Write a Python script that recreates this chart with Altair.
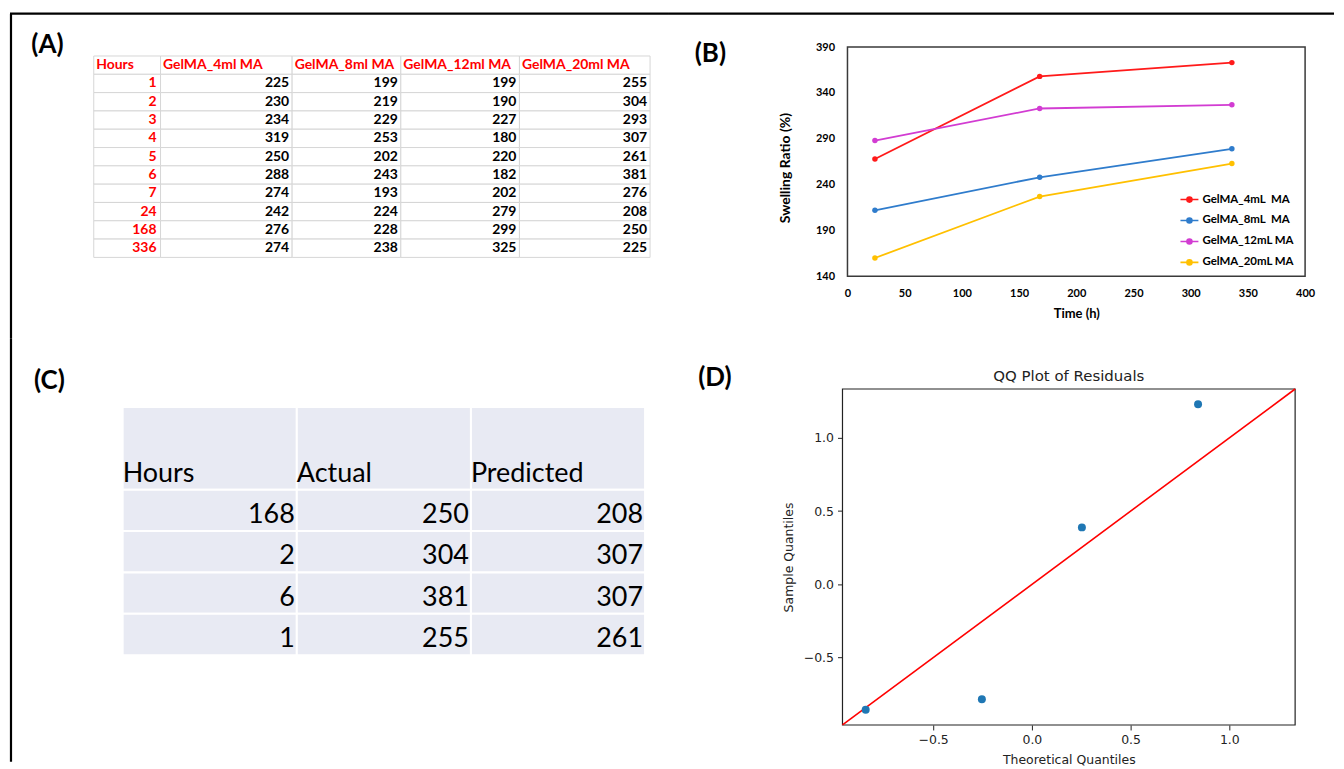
import altair as alt
import pandas as pd

# ---------------- data ----------------
# (A) swelling table
HEADERS_A = ["Hours", "GelMA_4ml MA", "GelMA_8ml MA", "GelMA_12ml MA", "GelMA_20ml MA"]
HOURS_A = [1, 2, 3, 4, 5, 6, 7, 24, 168, 336]
GEL_4ML = [225, 230, 234, 319, 250, 288, 274, 242, 276, 274]
GEL_8ML = [199, 219, 229, 253, 202, 243, 193, 224, 228, 238]
GEL_12ML = [199, 190, 227, 180, 220, 182, 202, 279, 299, 325]
GEL_20ML = [255, 304, 293, 307, 261, 381, 276, 208, 250, 225]

# (B) swelling ratio vs time
TIME_H = [24, 168, 336]
SERIES_B = ["GelMA_4mL \u00a0MA", "GelMA_8mL \u00a0MA", "GelMA_12mL MA", "GelMA_20mL MA"]
SW_4 = [268, 358, 373]
SW_8 = [212, 248, 279]
SW_12 = [288, 323, 327]
SW_20 = [160, 227, 263]
B_X_TICKS = [0, 50, 100, 150, 200, 250, 300, 350, 400]
B_Y_TICKS = [140, 190, 240, 290, 340, 390]

# (C) actual vs predicted table
HEADERS_C = ["Hours", "Actual", "Predicted"]
HOURS_C = [168, 2, 6, 1]
ACTUAL_C = [250, 304, 381, 255]
PRED_C = [208, 307, 307, 261]

# (D) QQ plot of residuals
THEO_Q = [-0.8416, -0.2533, 0.2533, 0.8416]
SAMPLE_Q = [-0.855, -0.783, 0.389, 1.229]
D_TICKS = [-0.5, 0.0, 0.5, 1.0]

# ---------------- layout / style ----------------
W_L, W_R = 660, 668
H_T, H_B = 330, 425
CAL = "Lato"
MPL = "DejaVu Sans"
COLORS_B = ["#ff1a1a", "#2f7ccc", "#d23cd2", "#ffc000"]
COL_W_A = [67, 132, 109, 119, 131]          # relative column widths of table A
FRAME_W = 2.2


def one(**kw):
    return pd.DataFrame({k: [v] for k, v in kw.items()})


def panel_label(text, x, y):
    return alt.Chart(one(t=text)).mark_text(
        font=CAL, fontSize=26, fontWeight="bold", align="center",
        baseline="middle", color="black"
    ).encode(x=alt.value(x), y=alt.value(y), text="t:N")


def hrule(y, x1, x2):
    return alt.Chart(one(k=0)).mark_rule(color="black", strokeWidth=FRAME_W).encode(
        x=alt.value(x1), x2=alt.value(x2), y=alt.value(y))


def vrule(x, y1, y2):
    return alt.Chart(one(k=0)).mark_rule(color="black", strokeWidth=FRAME_W).encode(
        x=alt.value(x), y=alt.value(y1), y2=alt.value(y2))


# ---------------- panel A ----------------
edges = [0]
for w in COL_W_A:
    edges.append(edges[-1] + w)
cols_a = [HOURS_A, GEL_4ML, GEL_8ML, GEL_12ML, GEL_20ML]
recs = []
for r in range(11):
    for c in range(5):
        if r == 0:
            kind, txt = "header", HEADERS_A[c]
        elif c == 0:
            kind, txt = "hours", str(HOURS_A[r - 1])
        else:
            kind, txt = "value", str(cols_a[c][r - 1])
        recs.append(dict(x0=edges[c], x1=edges[c + 1], y0=r, y1=r + 1, yc=r + 0.5,
                         kind=kind, txt=txt))
df_a = pd.DataFrame(recs)
xs_a = alt.Scale(domain=[0, edges[-1]], range=[84, 642], nice=False, zero=False)
ys_a = alt.Scale(domain=[0, 11], range=[47, 249], nice=False, zero=False)
FS_A = 14

cells_a = alt.Chart(df_a).mark_rect(fill="white", stroke="#d6d6d6", strokeWidth=1).encode(
    x=alt.X("x0:Q", scale=xs_a, axis=None), x2="x1:Q",
    y=alt.Y("y0:Q", scale=ys_a, axis=None), y2="y1:Q")
head_a = alt.Chart(df_a[df_a.kind == "header"]).mark_text(
    font=CAL, fontSize=FS_A, fontWeight="bold", color="#ff0000", align="left",
    baseline="middle", dx=2.5).encode(
    x=alt.X("x0:Q", scale=xs_a, axis=None), y=alt.Y("yc:Q", scale=ys_a, axis=None), text="txt:N")
hours_a = alt.Chart(df_a[df_a.kind == "hours"]).mark_text(
    font=CAL, fontSize=FS_A, fontWeight="bold", color="#ff0000", align="right",
    baseline="middle", dx=-4).encode(
    x=alt.X("x1:Q", scale=xs_a, axis=None), y=alt.Y("yc:Q", scale=ys_a, axis=None), text="txt:N")
vals_a = alt.Chart(df_a[df_a.kind == "value"]).mark_text(
    font=CAL, fontSize=FS_A, fontWeight="bold", color="black", align="right",
    baseline="middle", dx=-3).encode(
    x=alt.X("x1:Q", scale=xs_a, axis=None), y=alt.Y("yc:Q", scale=ys_a, axis=None), text="txt:N")

panel_a = alt.layer(
    cells_a, head_a, hours_a, vals_a,
    panel_label("(A)", 37.5, 36),
    hrule(4.5, 0, W_L), vrule(1, 4.5, H_T),
).properties(width=W_L, height=H_T)

# ---------------- panel B ----------------
rows_b = []
for name, vals in zip(SERIES_B, [SW_4, SW_8, SW_12, SW_20]):
    for t, v in zip(TIME_H, vals):
        rows_b.append(dict(time=t, ratio=v, series=name))
df_b = pd.DataFrame(rows_b)
xs_b = alt.Scale(domain=[B_X_TICKS[0], B_X_TICKS[-1]], range=[180, 639], nice=False, zero=False)
ys_b = alt.Scale(domain=[B_Y_TICKS[0], B_Y_TICKS[-1]], range=[268, 38], nice=False, zero=False)
ax_b_x = alt.Axis(values=B_X_TICKS, offset=-(H_T - 268), ticks=False, domain=False, grid=False,
                  labelFont=CAL, labelFontSize=11, labelFontWeight="bold", labelColor="black",
                  labelPadding=11, labelFlush=False, labelOverlap=False,
                  title="Time (h)", titleFont=CAL, titleFontSize=13, titleFontWeight="bold",
                  titleColor="black", titlePadding=9)
ax_b_y = alt.Axis(values=B_Y_TICKS, offset=-180, ticks=False, domain=False, grid=False,
                  labelFont=CAL, labelFontSize=11, labelFontWeight="bold", labelColor="black",
                  labelPadding=13, labelFlush=False, labelOverlap=False,
                  title="Swelling Ratio (%)", titleFont=CAL, titleFontSize=14,
                  titleFontWeight="bold", titleColor="black",
                  titleX=-62, titleY=159, titleAngle=270, titleAlign="center",
                  titleBaseline="middle")
frame_b = alt.Chart(one(x0=B_X_TICKS[0], x1=B_X_TICKS[-1], y0=B_Y_TICKS[0], y1=B_Y_TICKS[-1])).mark_rect(
    fillOpacity=0, stroke="#3a3a3a", strokeWidth=1.5).encode(
    x=alt.X("x0:Q", scale=xs_b, axis=ax_b_x), x2="x1:Q",
    y=alt.Y("y0:Q", scale=ys_b, axis=ax_b_y), y2="y1:Q")
sym = ("M-1,0L1,0M-0.28,0A0.28,0.28,0,1,1,0.28,0A0.28,0.28,0,1,1,-0.28,0"
       "M-0.15,0A0.15,0.15,0,1,1,0.15,0A0.15,0.15,0,1,1,-0.15,0")
lines_b = alt.Chart(df_b).mark_line(
    strokeWidth=1.8, point=alt.OverlayMarkDef(filled=True, size=30)).encode(
    x=alt.X("time:Q", scale=xs_b, axis=ax_b_x),
    y=alt.Y("ratio:Q", scale=ys_b, axis=ax_b_y),
    color=alt.Color("series:N", scale=alt.Scale(domain=SERIES_B, range=COLORS_B),
                    legend=alt.Legend(orient="none", legendX=W_L + 513, legendY=181, title=None,
                                      symbolType=sym, symbolSize=324, symbolStrokeWidth=1.6,
                                      labelFont=CAL, labelFontSize=11.5, labelFontWeight="bold",
                                      labelColor="black", labelOffset=3, rowPadding=5,
                                      padding=0, labelLimit=300)))
panel_b = alt.layer(
    frame_b, lines_b,
    panel_label("(B)", 42.5, 45.5),
    hrule(4.5, 0, W_R),
).properties(width=W_R, height=H_T)

# ---------------- panel C ----------------
recs_c = []
cols_c = [HOURS_C, ACTUAL_C, PRED_C]
for c in range(3):
    recs_c.append(dict(x0=c, x1=c + 1, y0=0, y1=2, kind="header", txt=HEADERS_C[c]))
    for r in range(4):
        recs_c.append(dict(x0=c, x1=c + 1, y0=2 + r, y1=3 + r, kind="value",
                           txt=str(cols_c[c][r])))
df_c = pd.DataFrame(recs_c)
xs_c = alt.Scale(domain=[0, 3], range=[113, 637], nice=False, zero=False)
ys_c = alt.Scale(domain=[0, 6], range=[69, 318], nice=False, zero=False)
FS_C = 27
cells_c = alt.Chart(df_c).mark_rect(fill="#e8eaf3", stroke="white", strokeWidth=2).encode(
    x=alt.X("x0:Q", scale=xs_c, axis=None), x2="x1:Q",
    y=alt.Y("y0:Q", scale=ys_c, axis=None), y2="y1:Q")
head_c = alt.Chart(df_c[df_c.kind == "header"]).mark_text(
    font=CAL, fontSize=FS_C, color="black", align="left", baseline="alphabetic",
    dx=0, dy=-8).encode(
    x=alt.X("x0:Q", scale=xs_c, axis=None), y=alt.Y("y1:Q", scale=ys_c, axis=None), text="txt:N")
vals_c = alt.Chart(df_c[df_c.kind == "value"]).mark_text(
    font=CAL, fontSize=FS_C, color="black", align="right", baseline="alphabetic",
    dx=-2, dy=-8).encode(
    x=alt.X("x1:Q", scale=xs_c, axis=None), y=alt.Y("y1:Q", scale=ys_c, axis=None), text="txt:N")
panel_c = alt.layer(
    cells_c, head_c, vals_c,
    panel_label("(C)", 39.5, 43),
    vrule(1, 0, H_B),
).properties(width=W_L, height=H_B)

# ---------------- panel D ----------------
xr = max(THEO_Q) - min(THEO_Q)
yr = max(SAMPLE_Q) - min(SAMPLE_Q)
lo = min(min(THEO_Q) - 0.05 * xr, min(SAMPLE_Q) - 0.05 * yr)
hi = max(max(THEO_Q) + 0.05 * xr, max(SAMPLE_Q) + 0.05 * yr)
df_d = pd.DataFrame({"theo": THEO_Q, "sample": SAMPLE_Q})
df_line = pd.DataFrame({"theo": [lo, hi], "sample": [lo, hi]})
xs_d = alt.Scale(domain=[lo, hi], range=[175, 629], nice=False, zero=False)
ys_d = alt.Scale(domain=[lo, hi], range=[388, 51], nice=False, zero=False)
ax_common = dict(values=D_TICKS, format=".1f", ticks=True, tickSize=5, tickColor="#222",
                 tickWidth=1, domain=False, grid=False, labelFont=MPL, labelFontSize=12.5,
                 labelColor="#222", labelFlush=False, labelOverlap=False,
                 titleFont=MPL, titleFontSize=12.5, titleFontWeight="normal", titleColor="#222")
ax_d_x = alt.Axis(offset=-(H_B - 388), labelPadding=4, title="Theoretical Quantiles",
                  titlePadding=7, **ax_common)
ax_d_y = alt.Axis(offset=-175, labelPadding=4, title="Sample Quantiles", titlePadding=8,
                  **ax_common)
frame_d = alt.Chart(one(x0=lo, x1=hi, y0=lo, y1=hi)).mark_rect(
    fillOpacity=0, stroke="#222", strokeWidth=1.2).encode(
    x=alt.X("x0:Q", scale=xs_d, axis=ax_d_x), x2="x1:Q",
    y=alt.Y("y0:Q", scale=ys_d, axis=ax_d_y), y2="y1:Q")
line_d = alt.Chart(df_line).mark_line(color="#ff0000", strokeWidth=1.6).encode(
    x=alt.X("theo:Q", scale=xs_d, axis=ax_d_x), y=alt.Y("sample:Q", scale=ys_d, axis=ax_d_y))
pts_d = alt.Chart(df_d).mark_circle(size=64, color="#1f77b4", opacity=1).encode(
    x=alt.X("theo:Q", scale=xs_d, axis=ax_d_x), y=alt.Y("sample:Q", scale=ys_d, axis=ax_d_y))
title_d = alt.Chart(one(t="QQ Plot of Residuals")).mark_text(
    font=MPL, fontSize=15, color="#222", align="center", baseline="middle").encode(
    x=alt.value(402), y=alt.value(38), text="t:N")
panel_d = alt.layer(
    frame_d, line_d, pts_d, title_d,
    panel_label("(D)", 47, 39.5),
).properties(width=W_R, height=H_B)

# ---------------- assemble ----------------
chart = alt.concat(panel_a, panel_b, panel_c, panel_d, columns=2, spacing=0,
                   bounds="flush").properties(
    padding=0, background="white"
).configure_view(stroke=None)

chart.save("out.html", embed_options={"renderer": "svg", "actions": False})
